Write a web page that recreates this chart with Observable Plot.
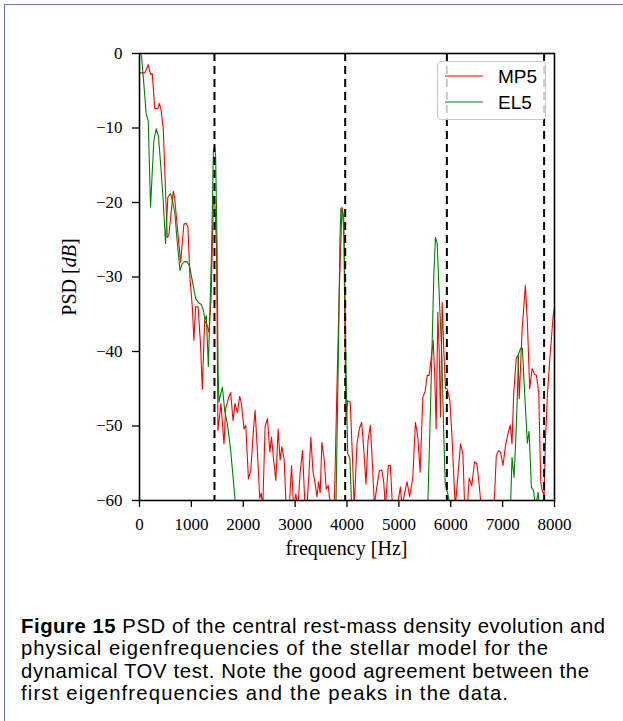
<!DOCTYPE html>
<html>
<head>
<meta charset="utf-8">
<script src="https://cdn.jsdelivr.net/npm/d3@7"></script>
<script src="https://cdn.jsdelivr.net/npm/@observablehq/plot@0.6"></script>
<style>
  body { margin: 0; background: #fff; }
  #page { position: relative; width: 623px; height: 721px; overflow: hidden; background: #fff; }
  #border { position: absolute; left: 4px; top: 4px; width: 760px; height: 820px; border: 1px solid #5f7fb0; }
  #chart { position: absolute; left: 0; top: 0; }
  #overlay { position: absolute; left: 0; top: 0; pointer-events: none; }
</style>
</head>
<body>
<div id="page">
  <div id="border"></div>
  <div id="chart"></div>
</div>
<script>
// ---- data ----
const seriesNames = ["MP5", "EL5"];
const seriesColors = ["red", "green"];

const mp5Freq = [17,102,168,213,245,296,354,381,412,458,535,566,651,676,792,856,902,933,972,1018,1049,1082,1130,1179,1211,1256,1294,1339,1380,1425,1455,1485,1512,1570,1629,1662,1725,1758,1803,1841,1888,1932,1965,2015,2048,2100,2145,2197,2228,2270,2318,2347,2376,2421,2467,2512,2544,2583,2628,2672,2711,2744,2788,2827,2879,2931,2970,3014,3053,3097,3143,3188,3226,3259,3304,3342,3381,3420,3452,3483,3516,3561,3600,3638,3661,3690,3754,3796,3851,3903,3936,3961,3980,4013,4063,4110,4140,4192,4237,4283,4322,4366,4405,4449,4482,4527,4569,4623,4670,4708,4739,4797,4836,4878,4917,4965,5029,5062,5110,5158,5207,5269,5319,5365,5410,5462,5506,5545,5584,5622,5661,5690,5719,5751,5777,5802,5835,5867,5898,5931,5983,6028,6086,6134,6188,6234,6269,6318,6356,6405,6459,6505,6550,6588,6685,6781,6834,6878,6922,6961,7007,7052,7104,7148,7181,7213,7264,7297,7320,7375,7438,7477,7522,7568,7618,7651,7696,7734,7767,7800,7825,7864,7908,7974,8018];
const mp5Psd = [-2.6,-2.6,-1.5,-2.8,-2.7,-7.4,-7.4,-6.7,-7.4,-10.1,-24.7,-24.4,-18.5,-19.3,-28,-22.9,-22.8,-23.3,-30,-34,-38.5,-34,-34,-39.4,-45.1,-35.8,-36.3,-37.4,-33,-19.1,-20.5,-26,-50.6,-47,-52.4,-47.6,-46.1,-45.5,-49.3,-47,-48.2,-46,-47,-50.4,-49.9,-57.1,-56,-50.5,-47.9,-53,-59.7,-59,-61,-50.1,-49,-53.5,-51.5,-54.4,-57.3,-50.4,-54.6,-52.8,-54.4,-61,-62,-55.3,-61,-59.1,-61,-56.2,-53.3,-60.5,-61,-57.3,-51.5,-56,-57.5,-59.5,-57.5,-59,-52.2,-54.5,-58.5,-58,-59.5,-61,-61,-48,-31.8,-20.6,-22,-38,-49.3,-46.6,-46.8,-55.1,-61,-52.4,-50.4,-49.5,-53,-57.8,-52,-49.9,-54,-60.5,-58.5,-56,-55.9,-57.5,-61,-55.3,-55.3,-61,-62,-61,-58.2,-61,-59,-57.5,-59.5,-56.9,-49.5,-51.5,-56.2,-46.1,-45.4,-43.2,-43.2,-41,-38.5,-43,-50.4,-34.7,-40,-48.8,-33.4,-40,-45,-45,-46.6,-52,-61,-57,-52.4,-53.7,-61,-61,-57,-58,-54.8,-55.1,-58,-61,-61,-61,-61,-54,-53.3,-53.5,-55.3,-52.8,-51,-49.9,-52.4,-45.7,-40.8,-40.5,-46.3,-37.2,-31.1,-36,-45,-42.3,-43.1,-43.2,-45.5,-57.5,-58.8,-59.3,-52,-45.7,-41.2,-35.2,-33.4];

const el5Freq = [6,39,77,129,168,213,276,323,367,412,457,502,547,599,643,682,724,779,825,875,922,966,1018,1082,1146,1192,1231,1262,1289,1327,1352,1391,1424,1449,1468,1493,1516,1532,1555,1598,1642,1694,1758,1841,1874,2500,3770,3787,3835,3864,3883,3916,3947,3980,4013,4057,4090,4150,5500,5558,5622,5674,5705,5738,5783,5829,5860,5893,5945,5976,6050,7100,7154,7181,7220,7264,7309,7347,7380,7425,7477,7510,7554,7599,7632,7684,7709,7750,8050];
const el5Psd = [0,-0.3,-3.5,-8.1,-9,-20.6,-11.7,-10.1,-11.2,-15.3,-19.7,-25.5,-19.3,-18.8,-20,-21.5,-25,-29.1,-28.2,-27.9,-28,-28.6,-30.5,-32.9,-33.5,-33.7,-34.5,-35.8,-35.2,-42,-35.8,-26,-13,-12.5,-13.7,-25,-43,-46.8,-46,-44.8,-47.9,-49.7,-53.3,-59.8,-63,-70,-65,-60.5,-40,-25,-20.8,-21.3,-25.1,-41.7,-53.7,-54.4,-61,-65,-65,-60.5,-44.3,-29.6,-24.7,-25.5,-33.2,-40.8,-49.7,-57.8,-59.1,-60.5,-65,-65,-60.5,-54.2,-56.9,-50.1,-40.3,-39.6,-39.5,-45.7,-52.3,-50.7,-58.2,-58.7,-61,-58.9,-61,-65,-65];

const eigenFreqs = [1445, 3965, 5925, 7800];
const xTicks = [0, 1000, 2000, 3000, 4000, 5000, 6000, 7000, 8000];
const yTicks = [-60, -50, -40, -30, -20, -10, 0];

// ---- build tables ----
const mp5 = mp5Freq.map((f, i) => ({f, psd: mp5Psd[i]}));
const el5 = el5Freq.map((f, i) => ({f, psd: el5Psd[i]}));
const fmtY = d => d < 0 ? "\u2212" + Math.abs(d) : String(d);

const chart = Plot.plot({
  width: 623,
  height: 580,
  marginLeft: 139,
  marginRight: 69,
  marginTop: 53,
  marginBottom: 80,
  style: {fontFamily: "'Liberation Serif', serif", fontSize: "17px", background: "transparent", color: "black"},
  x: {domain: [0, 8000]},
  y: {domain: [-60, 0]},
  marks: [
    Plot.line(mp5, {x: "f", y: "psd", stroke: seriesColors[0], strokeWidth: 1.1, clip: true}),
    Plot.line(el5, {x: "f", y: "psd", stroke: seriesColors[1], strokeWidth: 1.1, clip: true}),
    Plot.ruleX(eigenFreqs, {stroke: "black", strokeWidth: 2, strokeDasharray: "8,5"}),
    Plot.frame({stroke: "black", strokeWidth: 1.6}),
    Plot.axisX({ticks: xTicks, tickSize: 7, tickPadding: 10, strokeWidth: 1.3, tickFormat: d => String(d), label: null}),
    Plot.axisY({ticks: yTicks, tickSize: 7, tickPadding: 10, strokeWidth: 1.3, tickFormat: fmtY, label: null})
  ]
});
document.getElementById("chart").append(chart);

// ---- overlay: axis titles, legend, caption ----
const ov = d3.select("#page").append("svg")
  .attr("id", "overlay").attr("width", 623).attr("height", 721);

ov.append("text")
  .attr("x", 346.5).attr("y", 555)
  .attr("text-anchor", "middle")
  .attr("font-family", "'Liberation Serif', serif").attr("font-size", 20)
  .attr("textLength", 122).attr("lengthAdjust", "spacing")
  .text("frequency [Hz]");

const yl = ov.append("text")
  .attr("transform", "translate(76,277) rotate(-90)")
  .attr("text-anchor", "middle")
  .attr("font-family", "'Liberation Serif', serif").attr("font-size", 20);
yl.append("tspan").text("PSD [");
yl.append("tspan").attr("font-style", "italic").text("dB");
yl.append("tspan").text("]");

// legend
const lg = ov.append("g");
lg.append("rect").attr("x", 437.5).attr("y", 61.5).attr("width", 108).attr("height", 58).attr("rx", 4)
  .attr("fill", "white").attr("fill-opacity", 0.8).attr("stroke", "#cccccc").attr("stroke-width", 1.2);
seriesNames.forEach((name, i) => {
  const yy = 76 + i * 26;
  lg.append("line").attr("x1", 445).attr("x2", 483).attr("y1", yy).attr("y2", yy)
    .attr("stroke", seriesColors[i]).attr("stroke-width", 1.1);
  lg.append("text").attr("x", 498).attr("y", yy + 7)
    .attr("font-family", "'Liberation Sans', sans-serif").attr("font-size", 19)
    .text(name);
});

// caption
const capLines = [
  {bold: "Figure 15", rest: " PSD of the central rest-mass density evolution and", w: 584},
  {bold: "", rest: "physical eigenfrequencies of the stellar model for the", w: 527},
  {bold: "", rest: "dynamical TOV test. Note the good agreement between the", w: 568},
  {bold: "", rest: "first eigenfrequencies and the peaks in the data.", w: 487}
];
capLines.forEach((ln, i) => {
  const t = ov.append("text").attr("x", 21).attr("y", 633 + i * 22.3)
    .attr("font-family", "'Liberation Sans', sans-serif").attr("font-size", 20.3)
    .attr("textLength", ln.w).attr("lengthAdjust", "spacing");
  if (ln.bold) t.append("tspan").attr("font-weight", "bold").text(ln.bold);
  t.append("tspan").text(ln.rest);
});
</script>
</body>
</html>
